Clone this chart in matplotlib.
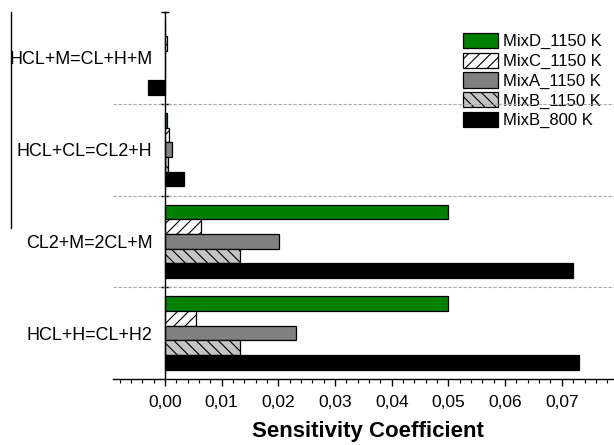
import matplotlib
matplotlib.use("Agg")
import matplotlib.pyplot as plt
from matplotlib.lines import Line2D
from matplotlib.ticker import MultipleLocator, FixedLocator, FixedFormatter
import numpy as np

plt.rcParams['font.family'] = ['Liberation Sans', 'DejaVu Sans']
plt.rcParams['hatch.linewidth'] = 0.8

# Reactions, bottom to top
reactions = ["HCL+H=CL+H2", "CL2+M=2CL+M", "HCL+CL=CL2+H", "HCL+M=CL+H+M"]

# Sensitivity coefficients per mixture / temperature (same order as reactions)
mixD_1150 = [0.0500, 0.0500, 0.0003, 0.0000]
mixC_1150 = [0.0054, 0.0063, 0.0008, 0.0003]
mixA_1150 = [0.0231, 0.0201, 0.0012, 0.0000]
mixB_1150 = [0.0132, 0.0132, 0.0005, 0.0000]
mixB_800 = [0.0731, 0.0720, 0.0033, -0.0029]

series_labels = ["MixD_1150 K", "MixC_1150 K", "MixA_1150 K", "MixB_1150 K", "MixB_800 K"]
x_ticks = [0.00, 0.01, 0.02, 0.03, 0.04, 0.05, 0.06, 0.07]
x_tick_labels = ["0,00", "0,01", "0,02", "0,03", "0,04", "0,05", "0,06", "0,07"]

W, H = 614, 445
fig = plt.figure(figsize=(W / 100, H / 100), dpi=100)
ax = fig.add_axes([113 / W, (H - 379) / H, (614 - 113) / W, (379 - 12) / H])

series = [mixD_1150, mixC_1150, mixA_1150, mixB_1150, mixB_800]
styles = [
    dict(color="#008000", hatch=None),
    dict(color="white", hatch="///"),
    dict(color="#808080", hatch=None),
    dict(color="#c4c4c4", hatch="\\\\\\"),
    dict(color="black", hatch=None),
]
bar_h = 0.16
offsets = [0.32, 0.16, 0.0, -0.16, -0.32]
y = np.arange(len(reactions))
for vals, st, off, lab in zip(series, styles, offsets, series_labels):
    ax.barh(y + off, vals, height=bar_h, color=st["color"], hatch=st["hatch"],
            edgecolor="black", linewidth=0.9, label=lab, zorder=2)

# dashed separators between reaction groups
for s in [0.5, 1.5, 2.5]:
    ax.axhline(s, color="#a8a8a8", linestyle=(0, (3, 1.5)), linewidth=0.8, zorder=3)

ax.set_xlim(-0.00915, 0.0792)
ax.set_ylim(-0.5, 3.5)

for side in ["top", "right"]:
    ax.spines[side].set_visible(False)
ax.spines["left"].set_position(("data", 0))
ax.spines["left"].set_zorder(4)
ax.spines["bottom"].set_linewidth(1.0)
ax.spines["left"].set_linewidth(1.0)

ax.xaxis.set_major_locator(FixedLocator(x_ticks))
ax.xaxis.set_major_formatter(FixedFormatter(x_tick_labels))
ax.xaxis.set_minor_locator(MultipleLocator(0.002))
ax.tick_params(axis="x", which="major", direction="out", length=5, width=1.0,
               pad=6.5, labelsize=12.5)
ax.tick_params(axis="x", which="minor", direction="out", length=3, width=0.8)

ax.set_yticks(y)
ax.set_yticklabels(reactions)
ax.yaxis.set_minor_locator(FixedLocator([0.5, 1.5, 2.5, 3.5]))
ax.tick_params(axis="y", which="major", length=0, pad=9, labelsize=12.9)
ax.tick_params(axis="y", which="minor", direction="inout", length=6, width=1.0)

ax.set_xlabel("Sensitivity Coefficient", fontsize=16, fontweight="bold")
ax.xaxis.set_label_coords((368 - 113) / 501, -(431 - 379) / 367)
ax.xaxis.label.set_va("center")

leg = ax.legend(loc="upper left", bbox_to_anchor=(463 / W, (H - 33) / H),
                bbox_transform=fig.transFigure, frameon=False, fontsize=12,
                handlelength=2.1, handleheight=1.02, labelspacing=0.2,
                handletextpad=0.3, borderpad=0, borderaxespad=0)
leg.set_zorder(1)

# thin vertical rule at the left edge
fig.add_artist(Line2D([11 / W, 11 / W], [(H - 12) / H, (H - 228) / H],
                      transform=fig.transFigure, color="black", linewidth=1.0))

fig.savefig("out.png", dpi=100)
